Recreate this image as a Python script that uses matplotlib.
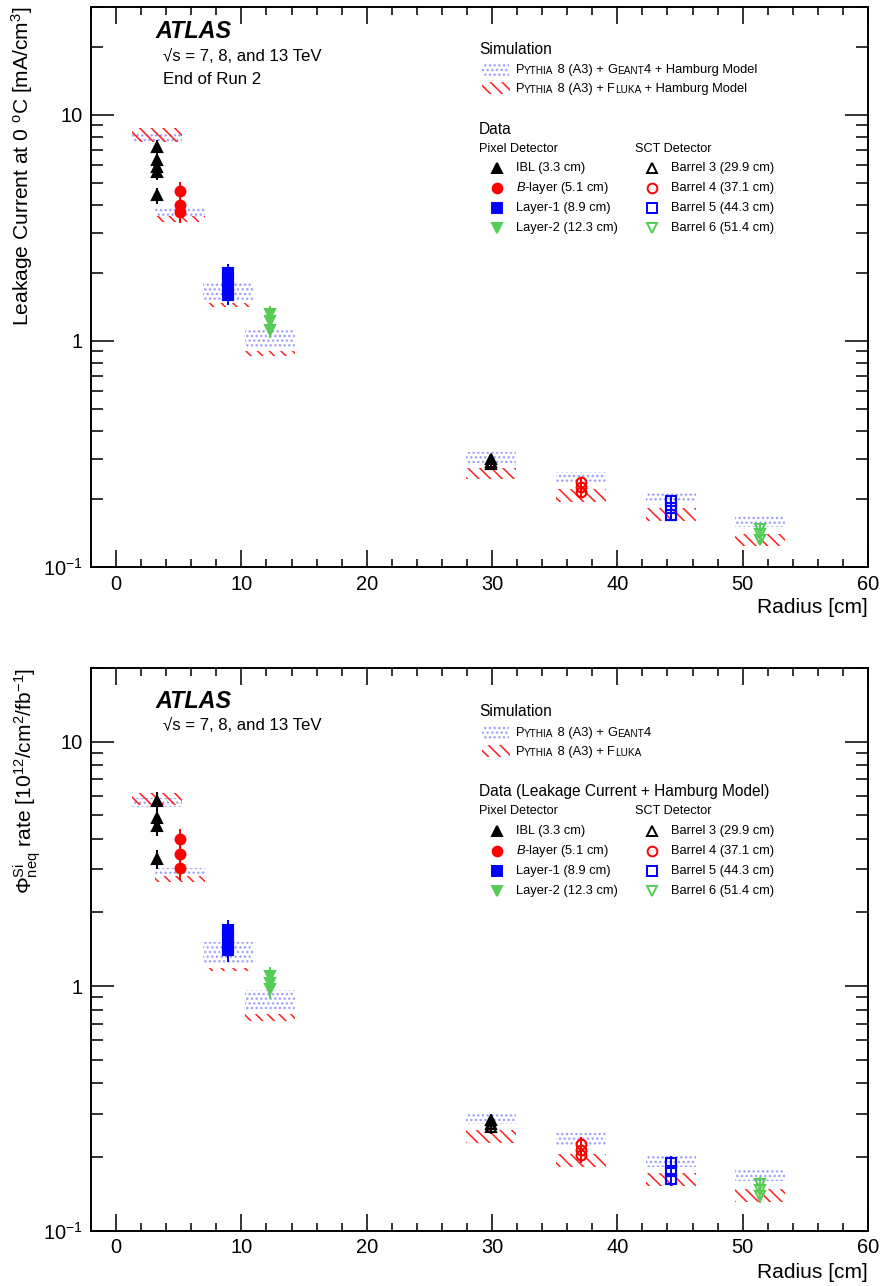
import matplotlib
matplotlib.use("Agg")
import matplotlib.pyplot as plt
from matplotlib.patches import Rectangle
from matplotlib.ticker import FixedLocator, FixedFormatter, MultipleLocator, NullFormatter

plt.rcParams['font.family'] = ['Liberation Sans', 'DejaVu Sans']
plt.rcParams['mathtext.fontset'] = 'custom'
plt.rcParams['mathtext.rm'] = 'Liberation Sans'
plt.rcParams['mathtext.it'] = 'Liberation Sans:italic'
plt.rcParams['mathtext.bf'] = 'Liberation Sans:bold'
plt.rcParams['hatch.linewidth'] = 0.8

DPI = 140
W, H = 881, 1286

# ---- data -------------------------------------------------------------
layer_radius = [3.3, 5.1, 8.9, 12.3, 29.9, 37.1, 44.3, 51.4]
layer_labels = ['IBL (3.3 cm)', '$B$-layer (5.1 cm)', 'Layer-1 (8.9 cm)', 'Layer-2 (12.3 cm)',
                'Barrel 3 (29.9 cm)', 'Barrel 4 (37.1 cm)', 'Barrel 5 (44.3 cm)', 'Barrel 6 (51.4 cm)']

# leakage current at 0 C [mA/cm3], one list per layer
cur_ibl = [7.2, 6.3, 5.9, 5.6, 4.4]
cur_blayer = [4.6, 4.0, 3.7]
cur_layer1 = [2.0, 1.85, 1.7, 1.6]
cur_layer2 = [1.32, 1.23, 1.12]
cur_b3 = [0.300, 0.290, 0.285]
cur_b4 = [0.237, 0.225, 0.214]
cur_b5 = [0.195, 0.183, 0.170]
cur_b6 = [0.148, 0.140, 0.132]
cur_relerr = [0.08, 0.10, 0.10, 0.08, 0.04, 0.05, 0.05, 0.05]

cur_geant_lo = [7.55, 3.58, 1.51, 0.93, 0.288, 0.235, 0.192, 0.150]
cur_geant_hi = [8.40, 3.90, 1.85, 1.14, 0.322, 0.263, 0.217, 0.170]
cur_fluka_lo = [7.60, 3.35, 1.41, 0.86, 0.245, 0.194, 0.160, 0.124]
cur_fluka_hi = [8.77, 3.58, 1.47, 0.90, 0.274, 0.221, 0.182, 0.140]

# fluence rate [1e12 / cm2 / fb-1]
flu_ibl = [5.7, 4.85, 4.5, 3.3]
flu_blayer = [4.0, 3.47, 3.03]
flu_layer1 = [1.70, 1.58, 1.47, 1.40]
flu_layer2 = [1.10, 1.03, 0.97]
flu_b3 = [0.283, 0.272, 0.265]
flu_b4 = [0.225, 0.213, 0.203]
flu_b5 = [0.188, 0.175, 0.163]
flu_b6 = [0.155, 0.147, 0.139]
flu_relerr = [0.09, 0.10, 0.10, 0.09, 0.06, 0.07, 0.07, 0.07]

flu_geant_lo = [5.40, 2.82, 1.24, 0.79, 0.273, 0.222, 0.182, 0.159]
flu_geant_hi = [5.87, 3.04, 1.52, 0.96, 0.306, 0.251, 0.204, 0.180]
flu_fluka_lo = [5.50, 2.67, 1.15, 0.72, 0.228, 0.182, 0.152, 0.131]
flu_fluka_hi = [6.18, 2.82, 1.19, 0.768, 0.258, 0.206, 0.172, 0.148]

# ---- styles -----------------------------------------------------------
GREEN = '#55cc55'
BLUE_DOT = (0.3, 0.3, 1.0, 0.5)
RED = '#ff2020'
layer_styles = [
    dict(marker='^', color='black', mfc='black'),
    dict(marker='o', color='red', mfc='red'),
    dict(marker='s', color='blue', mfc='blue'),
    dict(marker='v', color=GREEN, mfc=GREEN),
    dict(marker='^', color='black', mfc='none'),
    dict(marker='o', color='red', mfc='none'),
    dict(marker='s', color='blue', mfc='none'),
    dict(marker='v', color=GREEN, mfc='none'),
]
MS = 5.0
DOTS = '.....'
LINES = '\\' * 4


def fx(px):
    return px / W


def fy(py):
    return 1 - py / H


def draw_panel(ax, points, relerr, g_lo, g_hi, f_lo, f_hi, ymax):
    for r, lo, hi in zip(layer_radius, g_lo, g_hi):
        ax.bar(r, hi - lo, bottom=lo, width=4.0, fill=False, hatch=DOTS,
               edgecolor=BLUE_DOT, linewidth=0, zorder=2)
    for r, lo, hi in zip(layer_radius, f_lo, f_hi):
        ax.bar(r, hi - lo, bottom=lo, width=4.0, fill=False, hatch=LINES,
               edgecolor=RED, linewidth=0, zorder=3)
    for r, vals, e, st in zip(layer_radius, points, relerr, layer_styles):
        ax.errorbar([r] * len(vals), vals, yerr=[v * e for v in vals], fmt=st['marker'],
                    color=st['color'], mfc=st['mfc'], mec=st['color'], ms=MS, mew=1.1,
                    elinewidth=1.0, capsize=0, zorder=5)

    ax.set_yscale('log')
    ax.set_xlim(-2, 60)
    ax.set_ylim(0.1, ymax)
    ax.xaxis.set_major_locator(MultipleLocator(10))
    ax.xaxis.set_minor_locator(MultipleLocator(2))
    ax.yaxis.set_major_locator(FixedLocator([0.1, 1, 10]))
    ax.yaxis.set_major_formatter(FixedFormatter([r'$10^{-1}$', '1', '10']))
    minors = [m * d for d in (0.1, 1, 10) for m in range(2, 10)]
    ax.yaxis.set_minor_locator(FixedLocator(minors))
    ax.yaxis.set_minor_formatter(NullFormatter())
    ax.tick_params(which='both', direction='in', top=True, right=True, labelsize=10.3, width=0.8)
    ax.tick_params(axis='x', which='major', length=8.7, pad=4)
    ax.tick_params(axis='x', which='minor', length=4.2)
    ax.tick_params(axis='y', which='major', length=12.0, pad=4.5)
    ax.tick_params(axis='y', which='minor', length=6.0)
    for s in ax.spines.values():
        s.set_linewidth(1.0)


def small_caps(lay, x, y, parts, size):
    t = None
    for s, small in parts:
        fs = size * 0.78 if small else size
        if t is None:
            t = lay.text(x, y, s, fontsize=fs, va='center', ha='left')
        else:
            t = lay.annotate(s, xy=(1, 0), xycoords=t, fontsize=fs, va='bottom', ha='left')


def draw_legend(lay, y0, sim_parts, data_title):
    lay.text(479, y0, 'Simulation', fontsize=8.0, va='center')
    lay.add_patch(Rectangle((482, y0 + 14), 27, 13, fill=False, hatch=DOTS,
                            edgecolor=BLUE_DOT, linewidth=0))
    lay.add_patch(Rectangle((482, y0 + 33), 28, 12, fill=False, hatch=LINES,
                            edgecolor=RED, linewidth=0))
    small_caps(lay, 515.7, y0 + 21, sim_parts[0], 6.65)
    small_caps(lay, 515.7, y0 + 40, sim_parts[1], 6.65)
    lay.text(479, y0 + 80, data_title, fontsize=8.0, va='center')
    lay.text(479, y0 + 99.5, 'Pixel Detector', fontsize=6.5, va='center')
    lay.text(635, y0 + 99.5, 'SCT Detector', fontsize=6.5, va='center')
    for i, (lab, st) in enumerate(zip(layer_labels, layer_styles)):
        col = i // 4
        row = i % 4
        yy = y0 + 119 + row * 20
        mx = 497 if col == 0 else 652
        tx = 516 if col == 0 else 671
        lay.plot([mx], [yy], st['marker'], color=st['color'], mfc=st['mfc'],
                 mec=st['color'], ms=MS, mew=1.0)
        lay.text(tx, yy, lab, fontsize=6.6, va='center')


fig = plt.figure(figsize=(W / DPI, H / DPI), dpi=DPI)

ax1 = fig.add_axes([fx(91), fy(567), fx(777), 560 / H])
ax2 = fig.add_axes([fx(91), fy(1230.5), fx(777), 562.5 / H])

draw_panel(ax1, [cur_ibl, cur_blayer, cur_layer1, cur_layer2, cur_b3, cur_b4, cur_b5, cur_b6],
           cur_relerr, cur_geant_lo, cur_geant_hi, cur_fluka_lo, cur_fluka_hi, 30)
draw_panel(ax2, [flu_ibl, flu_blayer, flu_layer1, flu_layer2, flu_b3, flu_b4, flu_b5, flu_b6],
           flu_relerr, flu_geant_lo, flu_geant_hi, flu_fluka_lo, flu_fluka_hi, 20)

ax1.set_ylabel(r'Leakage Current at 0 $^{\mathrm{o}}$C [mA/cm$^{3}$]', fontsize=10.8, loc='top')
ax1.yaxis.set_label_coords(-0.072, 1.0)
ax2.set_ylabel(r'$\Phi^{\mathrm{Si}}_{\mathrm{neq}}$ rate [10$^{12}$/cm$^{2}$/fb$^{-1}$]',
               fontsize=10.8, loc='top')
ax2.yaxis.set_label_coords(-0.062, 1.0)
for ax, yl in ((ax1, -0.056), (ax2, -0.058)):
    ax.set_xlabel('Radius [cm]', fontsize=10.8, loc='right')
    ax.xaxis.set_label_coords(1.0, yl)

# overlay in pixel coordinates for the text blocks and legends
lay = fig.add_axes([0, 0, 1, 1])
lay.set_xlim(0, W)
lay.set_ylim(H, 0)
lay.axis('off')

lay.text(155, 31.7, 'ATLAS', fontsize=12.0, fontweight='bold', style='italic', va='center')
lay.text(163, 56.7, '\u221as = 7, 8, and 13 TeV', fontsize=8.6, va='center')
lay.text(163, 80, 'End of Run 2', fontsize=8.6, va='center')
lay.text(155, 701.7, 'ATLAS', fontsize=12.0, fontweight='bold', style='italic', va='center')
lay.text(163, 725, '\u221as = 7, 8, and 13 TeV', fontsize=8.6, va='center')

pythia = [('P', False), ('YTHIA', True), (' 8 (A3) + ', False)]
draw_legend(lay, 49, [
    pythia + [('G', False), ('EANT', True), ('4 + Hamburg Model', False)],
    pythia + [('F', False), ('LUKA', True), (' + Hamburg Model', False)],
], 'Data')
draw_legend(lay, 711.7, [
    pythia + [('G', False), ('EANT', True), ('4', False)],
    pythia + [('F', False), ('LUKA', True)],
], 'Data (Leakage Current + Hamburg Model)')

fig.savefig('out.png', dpi=DPI)
